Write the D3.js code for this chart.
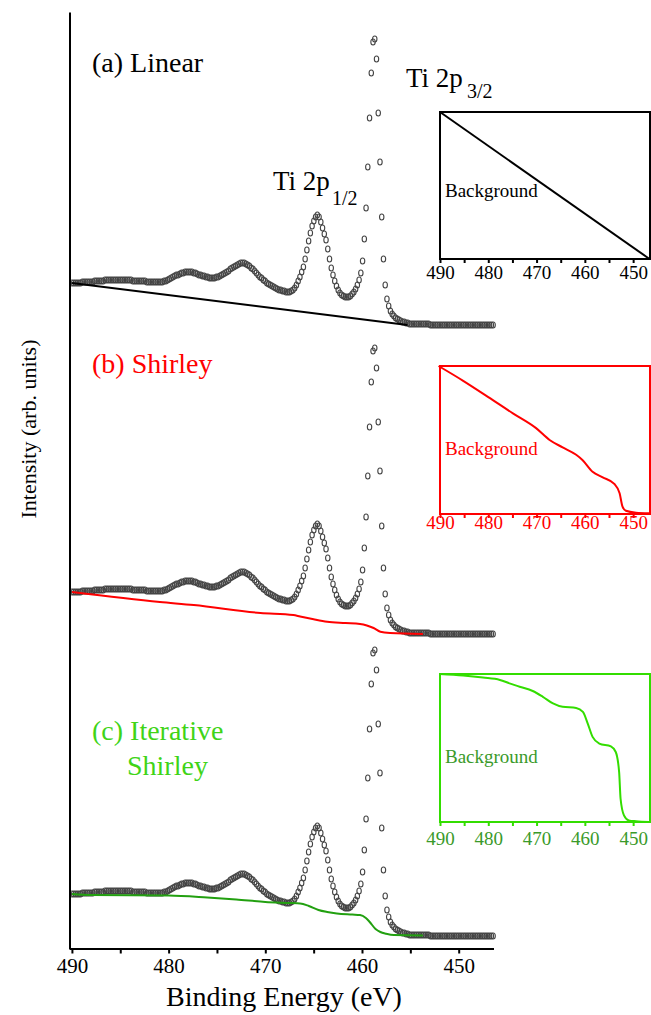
<!DOCTYPE html>
<html>
<head>
<meta charset="utf-8">
<script src="https://cdn.jsdelivr.net/npm/d3@7"></script>
<style>
body { margin: 0; background: #fff; }
svg text { font-family: "Liberation Serif", "Times New Roman", serif; }
</style>
</head>
<body>
<script>
// binding energy grid (eV), one point per 0.18 eV
var energies = d3.range(490, 446.4, -0.18);

// Ti 2p spectrum, intensity above the high-energy-side baseline (arb. units)
var spectrum = [
    42,42,42,42,42,42,43,43,43,43,
    43,43,43,44,44,44,44,44,44,45,
    45,45,45,45,45,45,45,45,45,45,
    45,45,45,45,45,44,44,44,44,44,
    44,44,44,43,43,43,43,43,43,43,
    43,43,43,44,44,45,46,47,48,49,
    50,50,51,52,52,53,53,53,53,53,
    52,52,51,50,50,49,49,48,48,47,
    47,47,47,48,48,49,50,51,52,53,
    54,56,57,58,59,60,61,62,62,62,
    61,60,59,57,56,54,52,50,48,47,
    45,44,42,41,40,39,38,37,36,35,
    35,34,34,33,33,33,34,35,37,40,
    44,48,53,58,66,75,84,92,99,104,
    108,110,108,103,97,91,85,76,66,57,
    50,44,39,35,32,30,29,28,28,28,
    29,31,33,36,40,45,52,64,86,117,
    158,207,252,283,286,266,212,163,108,66,
    40,26,19,14,11,9,7,6,5,4,
    3,3,2,2,1,1,1,1,1,1,
    1,1,1,1,1,1,0,0,0,0,
    0,0,0,0,0,0,0,0,0,0,
    0,0,0,0,0,0,0,0,0,0,
    0,0,0,0,0,0,0,0,0,0,
    0,0,0
];

// vertical offsets of the stacked spectra (a), (b), (c)
var offsets = [624, 315, 13];

// backgrounds under the spectra: [energy, intensity]
var linearBg = [[490, 42], [455.3, 0]];
var shirleyBg = [[490, 42], [480.9, 32], [477.4, 29], [470.5, 21], [467.1, 19], [466.4, 17.5],
    [465, 14.7], [463.6, 12.3], [461.7, 11], [460.2, 10], [459.5, 8.5], [458.8, 6],
    [458.1, 2.3], [457.1, 1], [453.7, 0]];
var iterBg = [[490, 42], [488, 41], [480, 40.5], [476, 38.5], [473, 36.5], [470, 34],
    [467.5, 33], [466.4, 32.5], [465.5, 30], [464.5, 26], [463.6, 24], [462.6, 22.5],
    [461, 21.5], [460.2, 21], [459.6, 18], [459.2, 14], [458.6, 7], [458.1, 4],
    [457.5, 2.3], [456.7, 1], [453.7, 0.6]];

// inset background curves, normalised 0..1
var insetLinear = [[490, 1], [446.6, 0]];
var insetShirley = [[490.3, 1], [485.2, 0.9], [480, 0.79], [474.9, 0.68], [470.1, 0.58],
    [467.3, 0.5], [464.6, 0.45], [461.8, 0.4], [460.5, 0.365], [458.4, 0.285],
    [456.3, 0.248], [453.9, 0.203], [452.8, 0.14], [452.2, 0.05], [451.5, 0.022],
    [449.4, 0.009], [446.7, 0.005]];
var insetIter = [[490, 1], [485.2, 0.99], [481.1, 0.976], [477.6, 0.96], [475.6, 0.937],
    [473.5, 0.914], [470.8, 0.885], [468.7, 0.846], [466.6, 0.801], [464.6, 0.778],
    [461.8, 0.771], [460.4, 0.744], [459.4, 0.665], [458.4, 0.575], [457, 0.53],
    [454.6, 0.511], [453.6, 0.473], [452.9, 0.337], [452.6, 0.157], [451.9, 0.045],
    [450.9, 0.011], [449.4, 0.005], [446.7, 0]];

var mainTicks = [490, 485, 480, 475, 470, 465, 460, 455, 450];
var insetTicks = [490, 485, 480, 475, 470, 465, 460, 455, 450];

var serif = "'Liberation Serif', 'Times New Roman', serif";

var svg = d3.select("body").append("svg")
    .attr("width", 651).attr("height", 1015)
    .attr("font-family", serif);

var x = d3.scaleLinear().domain([490.25, 446.4]).range([69.5, 493.5]);
var y = d3.scaleLinear().domain([0, 937]).range([949, 12]);

// spectra as open markers
offsets.forEach(function(off) {
    svg.append("g").selectAll("ellipse")
        .data(energies.map(function(e, i) { return [e, spectrum[i] + off]; }))
        .enter().append("ellipse")
        .attr("cx", d => x(d[0]))
        .attr("cy", d => y(d[1]))
        .attr("rx", 2.2).attr("ry", 3)
        .attr("fill", "none")
        .attr("stroke", "#444")
        .attr("stroke-width", 1.1);
});

var bgLines = [
    { pts: linearBg, off: offsets[0], color: "#000" },
    { pts: shirleyBg, off: offsets[1], color: "#ff0000" },
    { pts: iterBg, off: offsets[2], color: "#22a010" }
];
bgLines.forEach(function(b) {
    var line = d3.line()
        .x(d => x(d[0]))
        .y(d => y(d[1] + b.off))
        .curve(d3.curveMonotoneX);
    svg.append("path")
        .attr("d", line(b.pts))
        .attr("fill", "none")
        .attr("stroke", b.color)
        .attr("stroke-width", 2);
});

// main axes
var xAxis = svg.append("g")
    .attr("transform", "translate(0,948.5)")
    .call(d3.axisBottom(x).tickValues(mainTicks).tickSize(5).tickSizeOuter(0).tickPadding(4.5)
        .tickFormat(d => d % 10 === 0 ? d : ""));
xAxis.attr("font-family", serif);
xAxis.select(".domain").attr("stroke-width", 2);
xAxis.selectAll(".tick line").attr("stroke-width", 2);
xAxis.selectAll("text").attr("font-size", 21).attr("fill", "#000");

var yAxis = svg.append("g")
    .attr("transform", "translate(69.5,0)")
    .call(d3.axisLeft(y).tickValues([]).tickSizeOuter(0));
yAxis.select(".domain").attr("stroke-width", 2);

svg.append("text")
    .attr("x", 284).attr("y", 1006)
    .attr("text-anchor", "middle")
    .attr("font-size", 28)
    .text("Binding Energy (eV)");

svg.append("text")
    .attr("transform", "translate(36,429) rotate(-90)")
    .attr("text-anchor", "middle")
    .attr("font-size", 22)
    .text("Intensity (arb. units)");

// panel labels
svg.append("text").attr("x", 92).attr("y", 72).attr("font-size", 28).text("(a) Linear");
svg.append("text").attr("x", 92).attr("y", 373).attr("font-size", 28)
    .attr("fill", "#ff0000").text("(b) Shirley");
svg.append("text").attr("x", 92).attr("y", 740).attr("font-size", 28)
    .attr("fill", "#3fd417").text("(c) Iterative");
svg.append("text").attr("x", 127).attr("y", 775).attr("font-size", 28)
    .attr("fill", "#3fd417").text("Shirley");

function peakLabel(px, py, sub, sx, sy) {
    svg.append("text").attr("x", px).attr("y", py).attr("font-size", 27).text("Ti 2p");
    svg.append("text").attr("x", sx).attr("y", sy).attr("font-size", 20).text(sub);
}
peakLabel(406, 87, "3/2", 467, 98);
peakLabel(273, 190, "1/2", 332, 205);

// insets
var xi = d3.scaleLinear().domain([490, 446.3]).range([440, 651]);
var insets = [
    { top: 112, bottom: 259, pts: insetLinear, box: "#000", text: "#000", pad: 3, labelY: 197 },
    { top: 366, bottom: 514, pts: insetShirley, box: "#ff0000", text: "#ff0000", pad: -3, labelY: 455 },
    { top: 674, bottom: 822, pts: insetIter, box: "#33dd00", text: "#3a9a2a", pad: 6, labelY: 763 }
];
insets.forEach(function(s) {
    var yi = d3.scaleLinear().domain([0, 1]).range([s.bottom, s.top]);
    var g = svg.append("g");
    g.append("rect")
        .attr("x", xi(490)).attr("y", s.top)
        .attr("width", 650 - xi(490)).attr("height", s.bottom - s.top)
        .attr("fill", "#fff")
        .attr("stroke", s.box).attr("stroke-width", 2);
    g.append("path")
        .attr("d", d3.line().x(d => xi(d[0])).y(d => yi(d[1])).curve(d3.curveMonotoneX)(s.pts))
        .attr("fill", "none").attr("stroke", s.box).attr("stroke-width", 2);
    var ax = g.append("g")
        .attr("transform", "translate(0," + s.bottom + ")")
        .call(d3.axisBottom(xi).tickValues(insetTicks).tickSize(4).tickSizeOuter(0).tickPadding(s.pad)
            .tickFormat(d => d % 10 === 0 ? d : ""));
    ax.attr("font-family", serif);
    ax.select(".domain").remove();
    ax.selectAll(".tick line").attr("stroke", s.box).attr("stroke-width", 2);
    ax.selectAll("text").attr("font-size", 19).attr("fill", s.text);
    g.append("text").attr("x", 445).attr("y", s.labelY)
        .attr("font-size", 19).attr("fill", s.text).text("Background");
});
</script>
</body>
</html>
